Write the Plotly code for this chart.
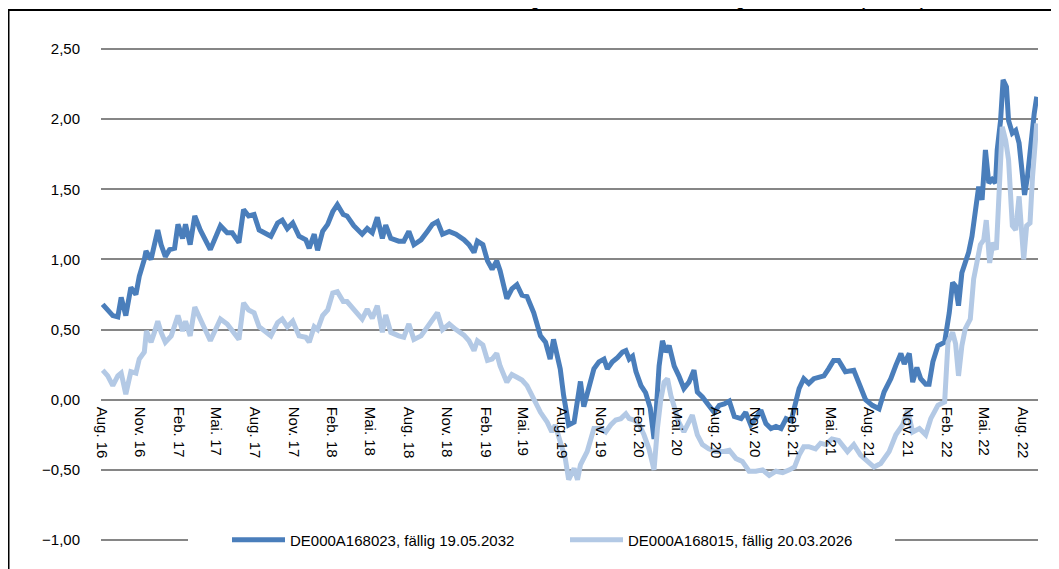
import plotly.graph_objects as go

# ---- data ----
dates_a = [
    "2016-08-04","2016-08-16","2016-08-28","2016-09-09","2016-09-17","2016-09-28","2016-10-10","2016-10-22",
    "2016-10-30","2016-11-11","2016-11-15","2016-11-27","2016-12-05","2016-12-13","2016-12-21","2016-12-31",
    "2017-01-10","2017-01-22","2017-01-30","2017-02-10","2017-02-17","2017-02-28","2017-03-11","2017-03-24",
    "2017-04-17","2017-05-11","2017-05-27","2017-06-08","2017-06-24","2017-07-05","2017-07-17","2017-07-30",
    "2017-08-11","2017-09-08","2017-09-24","2017-10-05","2017-10-17","2017-10-30","2017-11-14","2017-11-30",
    "2017-12-08","2017-12-20","2017-12-28","2018-01-09","2018-01-21","2018-02-02","2018-02-13","2018-02-27",
    "2018-03-08","2018-03-24","2018-04-13","2018-04-25","2018-05-07","2018-05-19","2018-05-31","2018-06-08",
    "2018-06-20","2018-07-09","2018-07-21","2018-08-02","2018-08-14","2018-08-31","2018-09-15","2018-09-27",
    "2018-10-09","2018-10-21","2018-11-06","2018-11-22","2018-12-11","2018-12-23","2019-01-04","2019-01-12",
    "2019-01-25","2019-02-05","2019-02-16","2019-02-27","2019-03-07","2019-03-23","2019-04-04","2019-04-16",
    "2019-04-28","2019-05-10","2019-05-26","2019-06-11","2019-06-23","2019-07-04","2019-07-12","2019-07-20",
    "2019-07-28","2019-08-05","2019-08-17","2019-08-30","2019-09-07","2019-09-14","2019-09-22","2019-10-04",
    "2019-10-16","2019-10-28","2019-11-09","2019-11-17","2019-11-29","2019-12-11","2019-12-23","2019-12-31",
    "2020-01-08","2020-01-16","2020-01-24","2020-02-05","2020-02-16","2020-02-27","2020-03-07","2020-03-13",
    "2020-03-19","2020-03-27","2020-04-04","2020-04-12","2020-04-24","2020-05-05","2020-05-17","2020-05-29",
    "2020-06-10","2020-06-18","2020-06-30","2020-07-15","2020-07-28","2020-08-09","2020-08-21","2020-09-02",
    "2020-09-14","2020-09-30","2020-10-11","2020-10-23","2020-11-04","2020-11-16","2020-11-28","2020-12-10",
    "2020-12-22","2021-01-03","2021-01-15","2021-01-27","2021-02-04","2021-02-15","2021-02-26","2021-03-10",
    "2021-03-22","2021-04-03","2021-04-15","2021-04-26","2021-05-08","2021-05-20","2021-06-05","2021-06-25",
    "2021-07-07","2021-07-23","2021-08-08","2021-08-24","2021-09-05","2021-09-21","2021-10-03","2021-10-15",
    "2021-10-23","2021-11-04","2021-11-12","2021-11-22","2021-12-01","2021-12-13","2021-12-21","2021-12-30",
    "2022-01-11","2022-01-27","2022-02-07","2022-02-15","2022-02-22","2022-03-01","2022-03-09","2022-03-17",
    "2022-03-25","2022-04-02","2022-04-10","2022-04-18","2022-04-26","2022-05-04","2022-05-12","2022-05-20",
    "2022-05-28","2022-06-01","2022-06-09","2022-06-15","2022-06-23","2022-06-28","2022-07-07","2022-07-15",
    "2022-07-23","2022-07-31","2022-08-05","2022-08-12","2022-08-20","2022-08-28","2022-09-03",
]
yield_2032 = [
    0.68,0.645,0.60,0.59,0.73,0.60,0.80,0.75,
    0.88,1.00,1.06,1.00,1.105,1.21,1.105,1.02,
    1.07,1.08,1.25,1.15,1.25,1.105,1.31,1.21,
    1.07,1.24,1.19,1.19,1.12,1.355,1.31,1.32,
    1.21,1.165,1.26,1.28,1.22,1.26,1.165,1.14,
    1.08,1.18,1.065,1.20,1.25,1.34,1.39,1.32,
    1.31,1.24,1.18,1.22,1.19,1.30,1.15,1.245,
    1.15,1.13,1.13,1.20,1.105,1.14,1.20,1.25,
    1.27,1.18,1.20,1.18,1.14,1.105,1.05,1.13,
    1.105,0.99,0.93,0.99,0.92,0.72,0.79,0.82,
    0.745,0.735,0.62,0.455,0.41,0.29,0.43,0.31,
    0.22,0.03,-0.18,-0.16,0.00,0.13,-0.05,0.10,
    0.22,0.27,0.29,0.22,0.27,0.30,0.34,0.35,
    0.29,0.31,0.20,0.10,0.05,-0.06,-0.28,-0.04,
    0.24,0.42,0.34,0.385,0.24,0.17,0.08,0.125,
    0.21,0.055,0.02,-0.04,-0.09,-0.04,-0.03,-0.01,
    -0.12,-0.135,-0.09,-0.18,-0.135,-0.075,-0.17,-0.205,
    -0.19,-0.205,-0.135,-0.15,-0.065,0.08,0.15,0.115,
    0.15,0.16,0.17,0.22,0.28,0.28,0.20,0.21,
    0.125,0.00,-0.04,-0.065,0.055,0.15,0.245,0.33,
    0.255,0.33,0.125,0.23,0.15,0.11,0.11,0.27,
    0.385,0.41,0.62,0.835,0.81,0.67,0.905,0.975,
    1.05,1.165,1.38,1.52,1.425,1.78,1.545,1.57,
    1.545,1.78,1.99,2.28,2.23,1.99,1.90,1.92,
    1.83,1.64,1.46,1.59,1.83,2.04,2.16,
]

dates_b = [
    "2016-08-04","2016-08-16","2016-08-28","2016-09-09","2016-09-17","2016-09-28","2016-10-10","2016-10-22",
    "2016-10-30","2016-11-11","2016-11-16","2016-11-27","2016-12-05","2016-12-13","2016-12-21","2016-12-31",
    "2017-01-14","2017-01-30","2017-02-10","2017-02-17","2017-02-28","2017-03-11","2017-03-24","2017-04-17",
    "2017-05-11","2017-05-27","2017-06-24","2017-07-05","2017-07-17","2017-07-30","2017-08-11","2017-09-08",
    "2017-09-24","2017-10-05","2017-10-17","2017-10-30","2017-11-14","2017-11-30","2017-12-08","2017-12-20",
    "2017-12-28","2018-01-09","2018-01-21","2018-02-02","2018-02-13","2018-02-27","2018-03-08","2018-03-24",
    "2018-04-13","2018-04-25","2018-05-07","2018-05-19","2018-05-31","2018-06-08","2018-06-20","2018-07-09",
    "2018-07-21","2018-08-02","2018-08-14","2018-08-31","2018-09-15","2018-09-27","2018-10-09","2018-10-21",
    "2018-11-06","2018-11-22","2018-12-11","2018-12-23","2019-01-04","2019-01-12","2019-01-25","2019-02-05",
    "2019-02-16","2019-02-27","2019-03-07","2019-03-23","2019-04-04","2019-04-16","2019-04-28","2019-05-10",
    "2019-05-26","2019-06-11","2019-06-27","2019-07-08","2019-07-16","2019-07-28","2019-08-09","2019-08-17",
    "2019-08-30","2019-09-07","2019-09-14","2019-09-30","2019-10-08","2019-10-16","2019-11-01","2019-11-13",
    "2019-11-25","2019-12-07","2019-12-19","2019-12-31","2020-01-08","2020-01-20","2020-02-01","2020-02-12",
    "2020-02-24","2020-03-07","2020-03-15","2020-03-23","2020-03-31","2020-04-08","2020-04-16","2020-04-24",
    "2020-05-05","2020-05-17","2020-05-29","2020-06-06","2020-06-18","2020-06-30","2020-07-15","2020-08-01",
    "2020-08-17","2020-09-02","2020-09-18","2020-10-03","2020-10-19","2020-11-04","2020-11-20","2020-12-06",
    "2020-12-22","2021-01-07","2021-01-23","2021-02-04","2021-02-15","2021-02-26","2021-03-10","2021-03-26",
    "2021-04-07","2021-04-19","2021-05-04","2021-05-20","2021-06-10","2021-06-25","2021-07-11","2021-07-27",
    "2021-08-12","2021-08-28","2021-09-17","2021-10-03","2021-10-19","2021-10-31","2021-11-12","2021-11-28",
    "2021-12-13","2021-12-25","2022-01-11","2022-01-27","2022-02-04","2022-02-15","2022-02-22","2022-03-01",
    "2022-03-09","2022-03-17","2022-03-29","2022-04-06","2022-04-14","2022-04-22","2022-04-30","2022-05-06",
    "2022-05-14","2022-05-22","2022-05-30","2022-06-04","2022-06-13","2022-06-21","2022-06-28","2022-07-07",
    "2022-07-15","2022-07-23","2022-07-29","2022-08-03","2022-08-10","2022-08-18","2022-08-24","2022-08-30",
    "2022-09-03",
]
yield_2026 = [
    0.21,0.17,0.10,0.17,0.19,0.04,0.20,0.19,
    0.29,0.34,0.49,0.41,0.48,0.56,0.48,0.41,
    0.455,0.60,0.49,0.56,0.455,0.66,0.575,0.42,
    0.575,0.54,0.43,0.69,0.64,0.62,0.52,0.455,
    0.55,0.575,0.52,0.56,0.455,0.445,0.41,0.52,
    0.50,0.60,0.64,0.76,0.77,0.70,0.70,0.645,
    0.575,0.645,0.58,0.67,0.48,0.605,0.48,0.455,
    0.445,0.54,0.43,0.455,0.52,0.575,0.62,0.50,
    0.54,0.50,0.46,0.42,0.35,0.42,0.39,0.28,
    0.29,0.33,0.24,0.125,0.18,0.16,0.14,0.10,
    0.00,-0.09,-0.16,-0.23,-0.18,-0.30,-0.42,-0.57,
    -0.49,-0.57,-0.465,-0.37,-0.30,-0.205,-0.205,-0.23,
    -0.18,-0.145,-0.135,-0.10,-0.135,-0.145,-0.18,-0.25,
    -0.35,-0.50,-0.205,0.00,0.125,0.15,0.03,-0.065,
    -0.16,-0.23,-0.16,-0.11,-0.25,-0.32,-0.35,-0.37,
    -0.37,-0.36,-0.42,-0.44,-0.51,-0.51,-0.50,-0.54,
    -0.51,-0.52,-0.50,-0.48,-0.395,-0.335,-0.335,-0.35,
    -0.31,-0.32,-0.28,-0.29,-0.37,-0.32,-0.395,-0.44,
    -0.48,-0.455,-0.37,-0.25,-0.18,-0.075,-0.23,-0.205,
    -0.25,-0.135,-0.04,-0.015,0.41,0.48,0.40,0.17,
    0.385,0.505,0.575,0.86,1.00,1.105,1.14,1.28,
    0.975,1.12,1.07,1.38,1.945,1.85,1.71,1.24,
    1.21,1.45,1.19,1.00,1.24,1.26,1.59,1.80,
    1.97,
]

series_names = ["DE000A168023, fällig 19.05.2032", "DE000A168015, fällig 20.03.2026"]
series_colors = ["#4A7EBB", "#B3C9E5"]

y_ticks = [-1.0, -0.5, 0.0, 0.5, 1.0, 1.5, 2.0, 2.5]
x_tick_dates = [
    "2016-08-01","2016-11-01","2017-02-01","2017-05-01","2017-08-01","2017-11-01",
    "2018-02-01","2018-05-01","2018-08-01","2018-11-01","2019-02-01","2019-05-01",
    "2019-08-01","2019-11-01","2020-02-01","2020-05-01","2020-08-01","2020-11-01",
    "2021-02-01","2021-05-01","2021-08-01","2021-11-01","2022-02-01","2022-05-01","2022-08-01",
]
x_tick_text = [
    "Aug. 16","Nov. 16","Feb. 17","Mai. 17","Aug. 17","Nov. 17",
    "Feb. 18","Mai. 18","Aug. 18","Nov. 18","Feb. 19","Mai. 19",
    "Aug. 19","Nov. 19","Feb. 20","Mai. 20","Aug. 20","Nov. 20",
    "Feb. 21","Mai. 21","Aug. 21","Nov. 21","Feb. 22","Mai. 22","Aug. 22",
]
title_text = "Renditeentwicklung der beiden Anleihen im Vergleich zum Bund (Prozent)"

# ---- figure (page shows the figure offset by the body margin) ----
Y_MIN, Y_MAX = -1.05, 2.6
W, H = 1051, 561
ML, MR, MT, MB = 93, 21, 27, 20
PW = W - ML - MR
PH = H - MT - MB
BOTTOM = H - MB  # pixel row of the plot bottom


def px_x(p):
    return (p - ML) / PW


def px_y(p):
    return (BOTTOM - p) / PH


fig = go.Figure()
fig.add_trace(go.Scatter(x=dates_a, y=yield_2032, mode="lines", name=series_names[0],
                         line=dict(color=series_colors[0], width=5)))
fig.add_trace(go.Scatter(x=dates_b, y=yield_2026, mode="lines", name=series_names[1],
                         line=dict(color=series_colors[1], width=5)))

font = "Arial, Liberation Sans, sans-serif"
fig.update_layout(
    width=W, height=H,
    margin=dict(l=ML, r=MR, t=MT, b=MB),
    paper_bgcolor="white", plot_bgcolor="white",
    separators=",.",
    font=dict(family=font, size=15, color="black"),
    showlegend=True,
    legend=dict(
        orientation="h",
        x=px_x(219), xanchor="left",
        y=px_y(534), yanchor="middle",
        bgcolor="rgba(0,0,0,0)", borderwidth=0,
        font=dict(family=font, size=15, color="black"),
        itemwidth=53,
        entrywidth=270,
        tracegroupgap=0,
    ),
    xaxis=dict(
        type="date",
        range=["2016-07-31", "2022-09-06"],
        anchor="free",
        position=(0 - Y_MIN) / (Y_MAX - Y_MIN),
        tickmode="array", tickvals=x_tick_dates, ticktext=x_tick_text,
        tickangle=90,
        showgrid=False, zeroline=False, showline=False,
        ticks="", ticklabelstandoff=6,
        tickfont=dict(family=font, size=15, color="black"),
    ),
    yaxis=dict(
        range=[Y_MIN, Y_MAX],
        tickmode="array", tickvals=y_ticks,
        tickformat=".2f",
        showgrid=True, gridcolor="#868686", gridwidth=2,
        zeroline=False, showline=False, ticks="",
        ticklabelstandoff=20,
        tickfont=dict(family=font, size=15, color="black"),
    ),
    annotations=[dict(
        text="<b>" + title_text + "</b>",
        xref="paper", yref="paper",
        x=px_x(389), xanchor="left",
        y=px_y(2), yanchor="bottom",
        showarrow=False, borderpad=0,
        font=dict(family=font, size=15, color="black"),
    )],
    shapes=[
        # white band behind the legend, interrupting the lowest grid line
        dict(type="rect", xref="paper", yref="paper",
             x0=px_x(180), x1=px_x(887), y0=px_y(538), y1=px_y(530),
             line=dict(width=0), fillcolor="white", layer="above"),
        # outer chart frame
        dict(type="rect", xref="paper", yref="paper",
             x0=px_x(0.5), x1=1.2, y0=-0.2, y1=px_y(2),
             line=dict(color="black", width=2), fillcolor="rgba(0,0,0,0)",
             layer="above"),
    ],
)

fig.write_html("out.html")
